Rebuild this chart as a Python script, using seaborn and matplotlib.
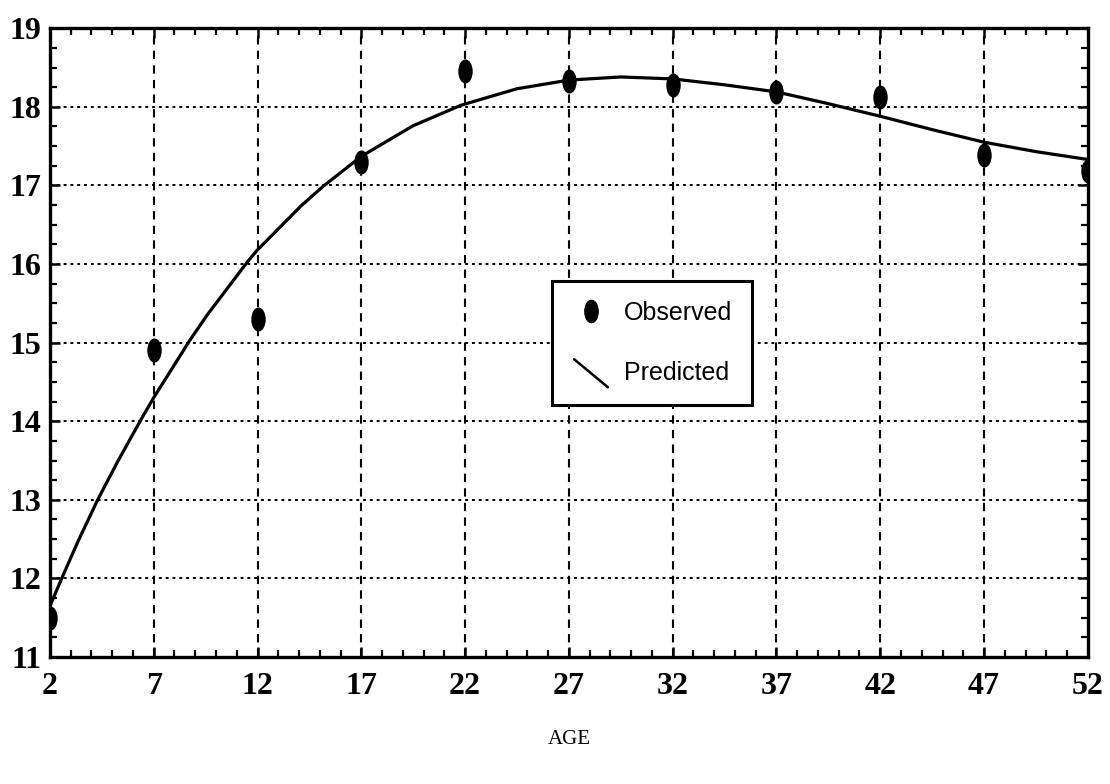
import matplotlib
matplotlib.use("Agg")
import matplotlib.pyplot as plt
import seaborn as sns
import pandas as pd
from matplotlib.lines import Line2D
from matplotlib.path import Path
from matplotlib.transforms import Affine2D
from matplotlib.legend_handler import HandlerBase
from matplotlib.ticker import MultipleLocator

# Observed values by age
obs_age = [2, 7, 12, 17, 22, 27, 32, 37, 42, 47, 52]
obs_val = [11.5, 14.9, 15.3, 17.3, 18.45, 18.33, 18.28, 18.19, 18.13, 17.39, 17.18]

# Fitted (predicted) curve, read along the age axis
pred_age = [2, 2.6, 3.35, 4.3, 5.27, 6.47, 7, 8.74, 9.57, 11.55, 12, 14.1, 15.17,
            17, 19.5, 21.8, 24.5, 27, 29.5, 32, 34.5, 37, 39.5, 42, 44.5, 47,
            49.5, 52]
pred_val = [11.65, 12.02, 12.47, 13.0, 13.49, 14.06, 14.30, 15.03, 15.35, 16.04,
            16.18, 16.74, 16.99, 17.37, 17.76, 18.02, 18.23, 18.34, 18.38, 18.355,
            18.28, 18.19, 18.04, 17.88, 17.71, 17.55, 17.43, 17.33]

x_ticks = [2, 7, 12, 17, 22, 27, 32, 37, 42, 47, 52]
y_ticks = [11, 12, 13, 14, 15, 16, 17, 18, 19]

obs = pd.DataFrame({"AGE": obs_age, "value": obs_val})
pred = pd.DataFrame({"AGE": pred_age, "value": pred_val})

sns.set_theme(style="white")
plt.rcParams["font.family"] = ["Liberation Serif", "DejaVu Serif"]
plt.rcParams["text.color"] = "black"
plt.rcParams["axes.labelcolor"] = "black"

fig = plt.figure(figsize=(11.10, 7.84), dpi=100)
ax = fig.add_axes([0.045, 0.162, 0.935, 0.802])

oval = Affine2D().scale(0.6, 1.0).transform_path(Path.unit_circle())

sns.lineplot(data=pred, x="AGE", y="value", ax=ax, color="black", linewidth=2.3,
             sort=True, legend=False, zorder=3)
sns.scatterplot(data=obs, x="AGE", y="value", ax=ax, color="black", marker=oval,
                s=300, edgecolor="black", linewidth=0, legend=False, zorder=4)

ax.set_xlim(2, 52)
ax.set_ylim(11, 19)
ax.set_xticks(x_ticks)
ax.set_yticks(y_ticks)
ax.xaxis.set_minor_locator(MultipleLocator(1))
ax.yaxis.set_minor_locator(MultipleLocator(0.25))

# Grid: dashed verticals, dotted horizontals
for xv in x_ticks[1:-1]:
    ax.axvline(xv, color="black", linewidth=1.5, linestyle=(0, (4, 3)), zorder=1)
for yv in y_ticks[1:-1]:
    ax.axhline(yv, color="black", linewidth=1.4, linestyle=(0, (1.5, 2.0)), zorder=1)

for sp in ax.spines.values():
    sp.set_visible(True)
    sp.set_color("black")
    sp.set_linewidth(2.4)

ax.tick_params(axis="both", which="major", direction="in", length=7, width=1.8,
               top=True, right=True, bottom=True, left=True, colors="black",
               labelcolor="black")
ax.tick_params(axis="both", which="minor", direction="in", length=5, width=1.6,
               top=True, right=True, bottom=True, left=True, colors="black")
ax.tick_params(axis="x", which="major", pad=11)
ax.tick_params(axis="y", which="major", pad=6)
for lab in ax.get_xticklabels() + ax.get_yticklabels():
    lab.set_fontsize(23)
    lab.set_fontweight("bold")
    lab.set_color("black")

ax.set_xlabel("AGE", fontsize=15, labelpad=21, color="black")
ax.set_ylabel("")


class DiagonalHandler(HandlerBase):
    def create_artists(self, legend, orig_handle, xdescent, ydescent, width,
                       height, fontsize, trans):
        line = Line2D([xdescent + 0.05 * width, xdescent + width * 0.95],
                      [ydescent + height * 1.2, ydescent - height * 0.4],
                      color="black", linewidth=1.8, transform=trans)
        return [line]


h_obs = Line2D([], [], linestyle="none", marker=oval, markersize=16,
               markerfacecolor="black", markeredgecolor="black")
h_pred = Line2D([], [], color="black")
leg = ax.legend([h_obs, h_pred], ["Observed", "Predicted"],
                handler_map={h_pred: DiagonalHandler()},
                loc="upper left", bbox_to_anchor=(0.484, 0.598),
                frameon=True, fancybox=False, shadow=False,
                prop={"family": ["Liberation Sans", "DejaVu Sans"], "size": 18},
                borderpad=0.8, labelspacing=1.45, handlelength=1.5,
                handletextpad=0.55, borderaxespad=0)
leg.get_frame().set_edgecolor("black")
leg.get_frame().set_linewidth(2.2)
leg.get_frame().set_facecolor("white")
leg.get_frame().set_alpha(1)
for t in leg.get_texts():
    t.set_color("black")
leg.set_zorder(5)

fig.savefig("out.png", dpi=100, facecolor="white")
